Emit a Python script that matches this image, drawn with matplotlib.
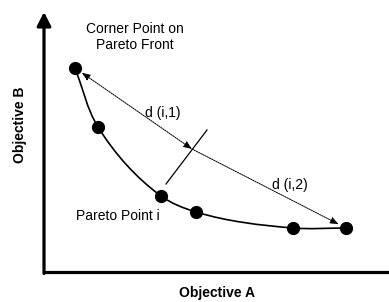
import matplotlib.pyplot as plt
from matplotlib.path import Path
from matplotlib.patches import PathPatch
import numpy as np

plt.rcParams['font.family'] = ['Liberation Sans', 'DejaVu Sans']

# pareto points (objective A, objective B)
obj_a = [31, 54, 117, 152, 249, 302]
obj_b = [204, 145, 76, 60, 44, 44]

cross_pt = (148, 123)
perp_start = (122, 88)
perp_end = (163, 142)

labels = {
    'Corner Point on\nPareto Front': (91, 235),
    'd (i,1)': (119, 159),
    'd (i,2)': (246, 87),
    'Pareto Point i': (74, 56),
}


def smooth_path(xs, ys):
    pts = np.column_stack([xs, ys]).astype(float)
    n = len(pts)
    chords = [(pts[k + 1] - pts[k]) / np.hypot(*(pts[k + 1] - pts[k])) for k in range(n - 1)]
    tang = [chords[0]]
    for k in range(1, n - 1):
        t = chords[k - 1] + chords[k]
        tang.append(t / np.hypot(*t))
    tang.append(chords[-1])
    verts = [pts[0]]
    codes = [Path.MOVETO]
    for k in range(n - 1):
        h = np.hypot(*(pts[k + 1] - pts[k])) / 3
        verts += [pts[k] + tang[k] * h, pts[k + 1] - tang[k + 1] * h, pts[k + 1]]
        codes += [Path.CURVE4] * 3
    return Path(verts, codes)


fig = plt.figure(figsize=(3.89, 3.02), dpi=100)
ax = fig.add_axes([0, 0, 1, 1])
ax.set_xlim(-44, 345)
ax.set_ylim(-30, 272)
ax.axis('off')

# axes with arrow on B
ax.plot([0, 345], [0, 0], color='black', lw=2.3, solid_capstyle='butt')
ax.annotate('', xy=(0, 260), xytext=(0, -1.5),
            arrowprops=dict(arrowstyle='-|>,head_length=0.55,head_width=0.28',
                            color='black', lw=2.3, shrinkA=0, shrinkB=0,
                            mutation_scale=15))

ax.add_patch(PathPatch(smooth_path(obj_a, obj_b), fill=False, lw=1.2, color='black'))
ax.plot(obj_a, obj_b, 'o', color='black', ms=8.5, zorder=5)

# distance arrows
dash = (0, (1.5, 1))
ax.annotate('', xy=cross_pt, xytext=(obj_a[0], obj_b[0]),
            arrowprops=dict(arrowstyle='<|-|>,head_length=0.5,head_width=0.2',
                            color='black', lw=0.7, linestyle=dash,
                            shrinkA=6, shrinkB=0, mutation_scale=10))
ax.annotate('', xy=(obj_a[-1], obj_b[-1]), xytext=cross_pt,
            arrowprops=dict(arrowstyle='-|>,head_length=0.5,head_width=0.2',
                            color='black', lw=0.7, linestyle=dash,
                            shrinkA=0, shrinkB=6, mutation_scale=10))
ax.plot([perp_start[0], perp_end[0]], [perp_start[1], perp_end[1]], color='black', lw=0.9)

for txt, (x, y) in labels.items():
    ax.text(x, y, txt, ha='center', va='center', fontsize=10, linespacing=1.15)

ax.text(173, -21, 'Objective A', ha='center', va='center', fontsize=10, fontweight='bold')
ax.text(-24, 147, 'Objective B', ha='center', va='center', fontsize=10,
        fontweight='bold', rotation=90)

fig.savefig('out.png', dpi=100)
